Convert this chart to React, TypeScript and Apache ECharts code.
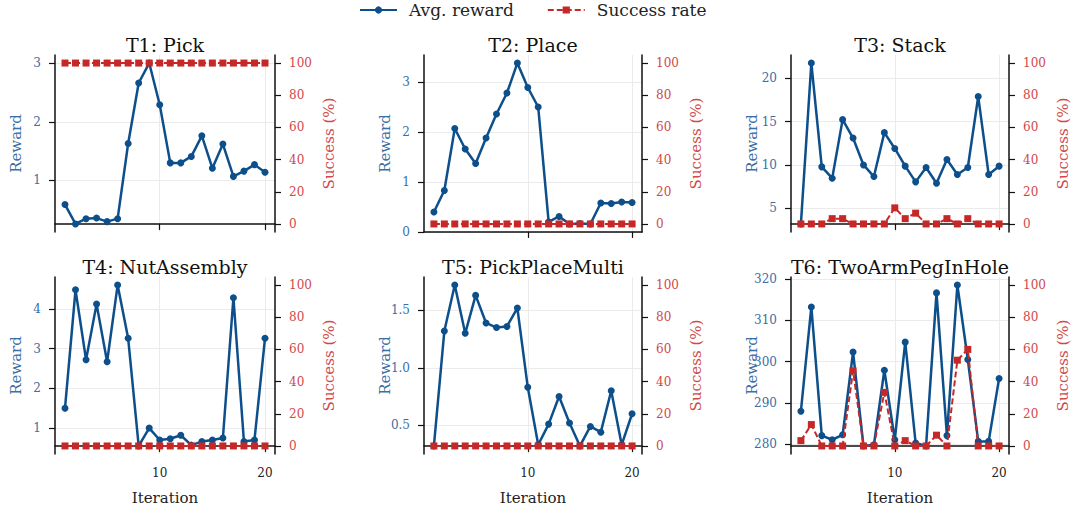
import React, { useEffect, useRef } from "react";
import * as echarts from "echarts";

const iterations = [1, 2, 3, 4, 5, 6, 7, 8, 9, 10, 11, 12, 13, 14, 15, 16, 17, 18, 19, 20];

const titles = ["T1: Pick", "T2: Place", "T3: Stack", "T4: NutAssembly", "T5: PickPlaceMulti", "T6: TwoArmPegInHole"];

const rewardT1 = [0.59, 0.26, 0.35, 0.36, 0.30, 0.35, 1.63, 2.66, 3.00, 2.29, 1.30, 1.30, 1.41, 1.76, 1.21, 1.62, 1.07, 1.16, 1.27, 1.14];
const rewardT2 = [0.40, 0.83, 2.07, 1.66, 1.37, 1.88, 2.36, 2.78, 3.38, 2.89, 2.50, 0.20, 0.31, 0.16, 0.17, 0.16, 0.58, 0.57, 0.60, 0.59];
const rewardT3 = [3.2, 21.74, 9.78, 8.47, 15.22, 13.1, 10.0, 8.66, 13.72, 11.9, 9.86, 8.05, 9.7, 7.89, 10.63, 8.9, 9.7, 17.88, 8.9, 9.86];
const rewardT4 = [1.50, 4.48, 2.72, 4.12, 2.67, 4.60, 3.26, 0.55, 1.00, 0.70, 0.73, 0.82, 0.57, 0.66, 0.70, 0.75, 4.28, 0.66, 0.70, 3.26];
const rewardT5 = [0.32, 1.32, 1.72, 1.30, 1.63, 1.39, 1.35, 1.36, 1.52, 0.83, 0.33, 0.51, 0.75, 0.52, 0.32, 0.49, 0.44, 0.80, 0.33, 0.60];
const rewardT6 = [288.0, 313.2, 282.1, 281.1, 282.3, 302.3, 279.6, 279.9, 297.9, 281.1, 304.7, 280.3, 279.6, 316.6, 282.1, 318.5, 300.5, 280.7, 280.7, 295.9];

const successT1 = [100, 100, 100, 100, 100, 100, 100, 100, 100, 100, 100, 100, 100, 100, 100, 100, 100, 100, 100, 100];
const successT2 = [0, 0, 0, 0, 0, 0, 0, 0, 0, 0, 0, 0, 0, 0, 0, 0, 0, 0, 0, 0];
const successT3 = [0, 0, 0, 3.3, 3.3, 0, 0, 0, 0, 10, 3.3, 6.7, 0, 0, 3.3, 0, 3.3, 0, 0, 0];
const successT4 = [0, 0, 0, 0, 0, 0, 0, 0, 0, 0, 0, 0, 0, 0, 0, 0, 0, 0, 0, 0];
const successT5 = [0, 0, 0, 0, 0, 0, 0, 0, 0, 0, 0, 0, 0, 0, 0, 0, 0, 0, 0, 0];
const successT6 = [3.3, 13.3, 0, 0, 0, 46.7, 0, 0, 33.3, 0, 3.3, 0, 0, 6.7, 0, 53.3, 60, 0, 0, 0];

const rewardTicksT1 = [1, 2, 3];
const rewardTicksT2 = [0, 1, 2, 3];
const rewardTicksT3 = [5, 10, 15, 20];
const rewardTicksT4 = [1, 2, 3, 4];
const rewardTicksT5 = [0.5, 1.0, 1.5];
const rewardTicksT6 = [280, 290, 300, 310, 320];
const successTicks = [0, 20, 40, 60, 80, 100];
const iterationTicks = [10, 20];

const rewards = [rewardT1, rewardT2, rewardT3, rewardT4, rewardT5, rewardT6];
const successes = [successT1, successT2, successT3, successT4, successT5, successT6];
const rewardTicks = [rewardTicksT1, rewardTicksT2, rewardTicksT3, rewardTicksT4, rewardTicksT5, rewardTicksT6];
const rewardDecimals = [0, 0, 0, 0, 1, 0];

const FONT = "DejaVu Serif";
const BLUE = "#0d4f8b";
const BLUE_LABEL = "#3a6ea6";
const RED = "#c62828";
const RED_LABEL = "#d04848";
const SPINE = "#111111";
const GRID = "#ebebeb";

const colLeft = [55, 424, 791];
const colWidth = [220, 218, 218];
const rowTop = [55, 277];
const plotHeight = 177;

function padRange(arr: number[]): [number, number] {
  const lo = Math.min(...arr);
  const hi = Math.max(...arr);
  const pad = (hi - lo) * 0.05;
  return [lo - pad, hi + pad];
}

export default function App() {
  const ref = useRef<HTMLDivElement>(null);

  useEffect(() => {
    if (!ref.current) return;
    const chart = echarts.init(ref.current, null, { renderer: "svg" });

    const grids: any[] = [];
    const xAxes: any[] = [];
    const yAxes: any[] = [];
    const series: any[] = [];
    const graphics: any[] = [];

    for (let i = 0; i < 6; i++) {
      const row = Math.floor(i / 3);
      const col = i % 3;
      const left = colLeft[col];
      const top = rowTop[row];
      const width = colWidth[col];
      grids.push({ left, top, width, height: plotHeight, outerBoundsMode: "none", containLabel: false });

      graphics.push({
        type: "text",
        x: left + width / 2,
        y: top - 10,
        style: {
          text: titles[i],
          fill: "#111",
          font: `19px '${FONT}'`,
          align: "center",
          verticalAlign: "middle",
          textAlign: "center",
          textVerticalAlign: "middle",
        },
      });

      const isBottom = row === 1;
      xAxes.push({
        type: "value",
        gridIndex: i,
        min: 0.05,
        max: 20.95,
        axisLine: { show: true, lineStyle: { color: SPINE, width: 1.5 } },
        axisTick: { show: true, customValues: iterationTicks, length: 6, lineStyle: { color: SPINE, width: 1.2 } },
        axisLabel: {
          show: isBottom,
          customValues: iterationTicks,
          color: "#222",
          fontSize: 12,
          fontFamily: FONT,
          margin: 13,
        },
        splitLine: { show: true, lineStyle: { color: GRID, width: 1 } },
        name: isBottom ? "Iteration" : "",
        nameLocation: "middle",
        nameGap: 36,
        nameMoveOverlap: false,
        nameTextStyle: { color: "#222", fontSize: 15, fontFamily: FONT },
      });

      const [rmin, rmax] = padRange(rewards[i]);
      const dec = rewardDecimals[i];
      yAxes.push({
        type: "value",
        gridIndex: i,
        position: "left",
        min: rmin,
        max: rmax,
        axisLine: { show: true, lineStyle: { color: SPINE, width: 1.5 } },
        axisTick: { show: true, customValues: rewardTicks[i], length: 6, lineStyle: { color: SPINE, width: 1.2 } },
        axisLabel: {
          customValues: rewardTicks[i],
          color: BLUE_LABEL,
          fontSize: 12,
          fontFamily: FONT,
          margin: 14,
          formatter: (v: number) => v.toFixed(dec),
        },
        splitLine: { show: true, lineStyle: { color: GRID, width: 1 } },
        name: "Reward",
        nameLocation: "middle",
        nameGap: 32,
        nameMoveOverlap: false,
        nameTextStyle: { color: BLUE_LABEL, fontSize: 15, fontFamily: FONT },
      });
      yAxes.push({
        type: "value",
        gridIndex: i,
        position: "right",
        min: -5,
        max: 105,
        axisLine: { show: true, lineStyle: { color: SPINE, width: 1.5 } },
        axisTick: { show: true, customValues: successTicks, length: 6, lineStyle: { color: SPINE, width: 1.2 } },
        axisLabel: {
          customValues: successTicks,
          color: RED_LABEL,
          fontSize: 12,
          fontFamily: FONT,
          margin: 14,
        },
        splitLine: { show: false },
        name: "Success (%)",
        nameLocation: "middle",
        nameGap: 46,
        nameMoveOverlap: false,
        nameTextStyle: { color: RED_LABEL, fontSize: 15, fontFamily: FONT },
      });

      series.push({
        name: "Avg. reward",
        type: "line",
        xAxisIndex: i,
        yAxisIndex: 2 * i,
        data: iterations.map((x, j) => [x, rewards[i][j]]),
        symbol: "circle",
        symbolSize: 7,
        showAllSymbol: true,
        clip: false,
        lineStyle: { color: BLUE, width: 2.5 },
        itemStyle: { color: BLUE },
        z: 2,
      });
      series.push({
        name: "Success rate",
        type: "line",
        xAxisIndex: i,
        yAxisIndex: 2 * i + 1,
        data: iterations.map((x, j) => [x, successes[i][j]]),
        symbol: "rect",
        symbolSize: 7,
        showAllSymbol: true,
        clip: false,
        lineStyle: { color: RED, width: 2, type: [6, 3] },
        itemStyle: { color: RED },
        z: 3,
      });
    }

    chart.setOption({
      animation: false,
      backgroundColor: "#ffffff",
      textStyle: { fontFamily: FONT },
      legend: {
        data: ["Avg. reward", "Success rate"],
        left: 359,
        top: 0,
        padding: 0,
        itemWidth: 37,
        itemHeight: 9,
        itemGap: 33,
        textStyle: { fontSize: 17, fontFamily: FONT, color: "#222", lineHeight: 20, padding: [0, 0, 0, 7] },
      },
      grid: grids,
      xAxis: xAxes,
      yAxis: yAxes,
      series,
      graphic: graphics,
    });

    return () => chart.dispose();
  }, []);

  return <div ref={ref} style={{ position: "absolute", left: 0, top: 0, width: 1075, height: 510 }} />;
}
